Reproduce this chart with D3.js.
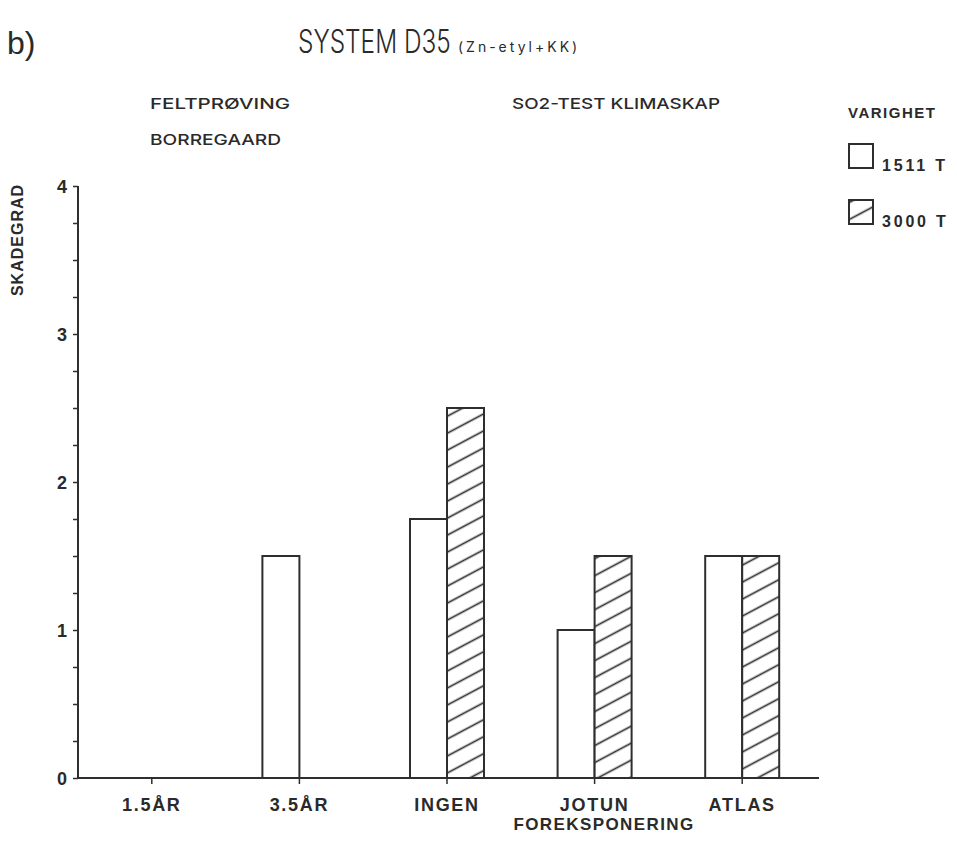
<!DOCTYPE html>
<html>
<head>
<meta charset="utf-8">
<script src="https://cdn.jsdelivr.net/npm/d3@7"></script>
<style>
  html, body { margin: 0; padding: 0; background: #fff; }
  svg { display: block; }
  .plot { font-family: "Inter", "DejaVu Sans", sans-serif; font-weight: 300; fill: #2a2a2a; }
  .bold { font-family: "Liberation Sans", Arial, sans-serif; font-weight: bold; fill: #2a2a2a; }
</style>
</head>
<body>
<script>
// Damage degree per pre-exposure, two test durations
const categories = ["1.5ÅR", "3.5ÅR", "INGEN", "JOTUN", "ATLAS"];
const values1511 = [0, 1.5, 1.75, 1.0, 1.5];
const values3000 = [0, 0, 2.5, 1.5, 1.5];
const yTicks = [0, 1, 2, 3, 4];
const legendLabels = ["1511 T", "3000 T"];

const W = 957, H = 844;
const svg = d3.select("body").append("svg").attr("width", W).attr("height", H);

const ink = "#2e2e2e";

// hatch pattern for the 3000 T series
const defs = svg.append("defs");
const pat = defs.append("pattern")
  .attr("id", "hatch")
  .attr("patternUnits", "userSpaceOnUse")
  .attr("width", 10).attr("height", 15)
  .attr("patternTransform", "rotate(-28)");
pat.append("rect").attr("width", 10).attr("height", 15).attr("fill", "#fff");
pat.append("line").attr("x1", 0).attr("x2", 10).attr("y1", 7.5).attr("y2", 7.5)
  .attr("stroke", ink).attr("stroke-width", 1.7);

const x = d3.scaleBand().domain(categories).range([78, 816]);
const y = d3.scaleLinear().domain([0, 4]).range([778, 186]);
const barW = 37;

// bars
const g = svg.append("g");
categories.forEach((c, i) => {
  const cx = x(c) + x.bandwidth() / 2;
  if (values1511[i] > 0) {
    g.append("rect")
      .attr("x", cx - barW).attr("y", y(values1511[i]))
      .attr("width", barW).attr("height", y(0) - y(values1511[i]))
      .attr("fill", "#fff").attr("stroke", ink).attr("stroke-width", 2);
  }
  if (values3000[i] > 0) {
    g.append("rect")
      .attr("x", cx).attr("y", y(values3000[i]))
      .attr("width", barW).attr("height", y(0) - y(values3000[i]))
      .attr("fill", "url(#hatch)").attr("stroke", ink).attr("stroke-width", 2);
  }
});

// y axis with minor ticks
const yAxis = d3.axisLeft(y).tickValues(d3.range(0, 4.001, 0.25))
  .tickSize(5).tickFormat(d => yTicks.includes(d) ? d : "");
const ya = svg.append("g").attr("transform", "translate(78,0)").call(yAxis);
ya.attr("font-size", null).attr("font-family", null);
ya.select(".domain").attr("stroke", ink).attr("stroke-width", 2).attr("d", "M0,186V778");
ya.selectAll(".tick line").attr("stroke", ink).attr("stroke-width", 1.5);
ya.selectAll(".tick text").attr("class", "bold").style("font-size", "18px").attr("x", -11)
  .attr("dy", "0.35em");

// x axis
const xAxis = d3.axisBottom(x).tickSize(6).tickPadding(10);
const xa = svg.append("g").attr("transform", "translate(0,778)").call(xAxis);
xa.attr("font-size", null).attr("font-family", null);
xa.select(".domain").attr("stroke", ink).attr("stroke-width", 2).attr("d", "M78,0H819");
xa.selectAll(".tick line").attr("stroke", ink).attr("stroke-width", 1.5);
xa.selectAll(".tick text").attr("class", "bold").style("font-size", "18px")
  .attr("letter-spacing", 1.7).attr("dy", "0.95em");

// axis titles
svg.append("text").attr("class", "bold").style("font-size", "17px").attr("letter-spacing", 1.4)
  .attr("text-anchor", "middle").attr("x", 604).attr("y", 830).text("FOREKSPONERING");
svg.append("text").attr("class", "bold").style("font-size", "16px").attr("letter-spacing", 1)
  .attr("text-anchor", "middle")
  .attr("transform", "translate(23,240) rotate(-90)").text("SKADEGRAD");

// title
svg.append("text").attr("class", "bold").style("font-size", "32px").style("font-weight", "normal")
  .attr("x", 7).attr("y", 54).text("b)");
svg.append("text").attr("class", "plot").style("font-size", "33px")
  .attr("transform", "translate(298,53) scale(0.74,1)")
  .text("SYSTEM D35");
svg.append("text").attr("class", "plot").style("font-size", "14px").style("font-weight", 400)
  .attr("letter-spacing", 3)
  .attr("x", 458).attr("y", 52)
  .text("(Zn-etyl+KK)");

// group headings
svg.append("text").attr("class", "plot").style("font-size", "15px").style("font-weight", 500)
  .attr("x", 150).attr("y", 109).attr("textLength", 140).attr("lengthAdjust", "spacingAndGlyphs")
  .text("FELTPRØVING");
svg.append("text").attr("class", "plot").style("font-size", "15px").style("font-weight", 500)
  .attr("x", 150).attr("y", 145).attr("textLength", 131).attr("lengthAdjust", "spacingAndGlyphs")
  .text("BORREGAARD");
svg.append("text").attr("class", "plot").style("font-size", "15px").style("font-weight", 500)
  .attr("x", 512).attr("y", 109).attr("textLength", 208).attr("lengthAdjust", "spacingAndGlyphs")
  .text("SO2-TEST KLIMASKAP");

// legend
svg.append("text").attr("class", "bold").style("font-size", "15px").attr("letter-spacing", 1.5)
  .attr("x", 848).attr("y", 118).text("VARIGHET");
const fills = ["#fff", "url(#hatch)"];
legendLabels.forEach((lab, i) => {
  const ly = 144 + i * 56;
  svg.append("rect").attr("x", 849).attr("y", ly).attr("width", 24).attr("height", 24)
    .attr("fill", fills[i]).attr("stroke", ink).attr("stroke-width", 2);
  svg.append("text").attr("class", "bold").style("font-size", "16px").attr("letter-spacing", 2.8)
    .attr("x", 882).attr("y", ly + 27).text(lab);
});
</script>
</body>
</html>
